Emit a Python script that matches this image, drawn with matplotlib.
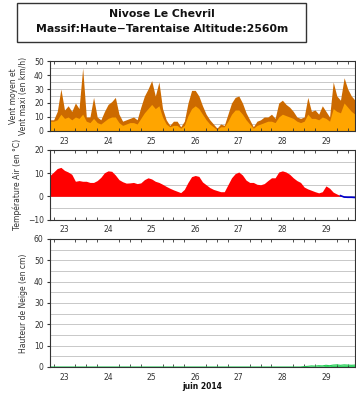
import numpy as np
import matplotlib
matplotlib.use("Agg")
import matplotlib.pyplot as plt
from matplotlib.patches import Rectangle

# 2-hourly samples from 23 June 04:00 to 30 June 04:00
t_start = 23 + 4 / 24.
step = 2 / 24.

vent_maxi = [8, 8, 14, 30, 15, 18, 14, 20, 16, 45, 10, 10, 24, 10, 8, 14, 19, 21, 24, 12,
             7, 8, 9, 10, 8, 17, 25, 30, 36, 25, 35, 16, 8, 4, 7, 7, 3, 7, 20, 29,
             29, 25, 18, 12, 8, 5, 2, 5, 4, 12, 20, 24, 25, 20, 13, 8, 3, 7, 8, 10,
             10, 12, 9, 20, 22, 19, 17, 14, 10, 9, 10, 24, 14, 15, 12, 18, 14, 10, 35, 25,
             22, 38, 30, 25, 22]
vent_moyen = [7, 7, 8, 12, 9, 10, 8, 10, 9, 12, 7, 6, 9, 6, 5, 7, 9, 10, 10, 6,
              4, 5, 6, 6, 5, 9, 13, 16, 19, 16, 18, 10, 5, 3, 4, 4, 2, 4, 11, 16,
              18, 16, 12, 8, 5, 3, 1, 3, 3, 7, 12, 15, 15, 12, 8, 5, 2, 4, 5, 6,
              7, 7, 6, 10, 12, 11, 10, 9, 7, 6, 7, 12, 9, 9, 8, 10, 9, 7, 16, 14,
              13, 20, 17, 14, 12]
temp_air = [9, 10.5, 12, 12.5, 11.2, 10.5, 9.5, 6.5, 6.8, 6.5, 6.5, 6, 6, 6.8, 8.2, 10.2, 11, 10.8, 9.2, 7.2,
            6.3, 5.7, 5.8, 6, 5.5, 5.8, 7.2, 8, 7.5, 6.5, 6, 5.2, 4.3, 3.5, 2.8, 2.2, 1.6, 3, 6, 8.5,
            9, 8.6, 6.2, 5, 3.8, 3, 2.5, 2, 2, 5, 8, 9.8, 10.5, 9.2, 7, 6, 6, 5.2, 5, 5.5,
            6.8, 8, 8, 10.5, 11, 10.5, 9.5, 8, 6.8, 6, 4, 3.2, 2.6, 2, 1.5, 2, 4.5, 3.5, 1.8, 1,
            0.3, -0.3, -0.4, -0.4, -0.5]
neige = [0] * 70 + [0.2, 0.3, 0.5, 0.4, 0.6, 0.5, 0.8, 0.6, 0.9, 1.0, 0.8, 1.0, 0.9, 0.8, 0.9]

jours = [23, 24, 25, 26, 27, 28, 29]

t = t_start + step * np.arange(len(vent_maxi))
temp = np.array(temp_air)

fig = plt.figure(figsize=(3.56, 3.94), dpi=100)
plt.rcParams['font.family'] = 'DejaVu Sans'

fig.patches.append(Rectangle((17 / 356, 1 - 42 / 394), 289 / 356, 39 / 394,
                             transform=fig.transFigure, fill=False,
                             edgecolor='#333333', lw=1))
fig.text(162 / 356, 1 - 14 / 394, "Nivose Le Chevril", ha='center', va='center',
         fontsize=7.8, fontweight='bold', color='#111111')
fig.text(162 / 356, 1 - 28.5 / 394, "Massif:Haute\u2212Tarentaise Altitude:2560m", ha='center',
         va='center', fontsize=7.8, fontweight='bold', color='#111111')

left, width = 50 / 356, 305 / 356
ax1 = fig.add_axes([left, 1 - 131 / 394, width, 70 / 394])
ax2 = fig.add_axes([left, 1 - 219.5 / 394, width, 69.5 / 394])
ax3 = fig.add_axes([left, 1 - 367 / 394, width, 128 / 394])

ax1.fill_between(t, vent_maxi, 0, color='#cc6a00', lw=0)
ax1.fill_between(t, vent_moyen, 0, color='#ffa500', lw=0)
ax1.set_ylim(0, 50)
ax1.set_yticks(range(0, 51, 10))
ax1.set_ylabel("Vent moyen et\nVent maxi (en km/h)", fontsize=5.5, color='#333333', labelpad=4)

ax2.fill_between(t, temp, 0, where=temp >= 0, interpolate=True, color='#ff0000', lw=0)
ax2.fill_between(t, temp, 0, where=temp <= 0, interpolate=True, color='#0000cc', lw=0)
ax2.plot(t[temp <= 0.3], temp[temp <= 0.3], color='#0000cc', lw=1.2)
ax2.set_ylim(-10, 20)
ax2.set_yticks(range(-10, 21, 10))
ax2.set_ylabel("Température Air (en °C)", fontsize=5.5, color='#333333', labelpad=4)

ax3.fill_between(t, neige, 0, color='#33dd66', lw=0)
ax3.plot(t, neige, color='#22cc55', lw=0.8)
ax3.set_ylim(0, 60)
ax3.set_yticks(range(0, 61, 10))
ax3.set_ylabel("Hauteur de Neige (en cm)", fontsize=5.5, color='#333333', labelpad=4)
ax3.set_xlabel("juin 2014", fontsize=5.5, fontweight='bold', labelpad=0, color='#111111')

for ax in (ax1, ax2, ax3):
    ymin, ymax = ax.get_ylim()
    for g in np.arange(ymin + 5, ymax, 5):
        ax.axhline(g, color='#c8c8c8', lw=0.7, zorder=0)
    ax.set_xticks([d + 0.5 for d in jours])
    ax.set_xticklabels([str(d) for d in jours])
    ax.set_xticks([d + 1 for d in jours] + [d + q / 4 for d in jours + [30] for q in (1, 2, 3)], minor=True)
    ax.set_xlim(t[0], t[-1])
    ax.tick_params(axis='x', which='major', length=0, labelsize=5.5, colors='#333333', pad=4)
    ax.tick_params(axis='x', which='minor', length=2, direction='in', top=True, color='#333333')
    ax.tick_params(axis='y', length=2.5, labelsize=5.5, colors='#333333', pad=2)
    for s in ax.spines.values():
        s.set_color('#333333')
        s.set_linewidth(0.8)

fig.savefig("out.png", dpi=100)
